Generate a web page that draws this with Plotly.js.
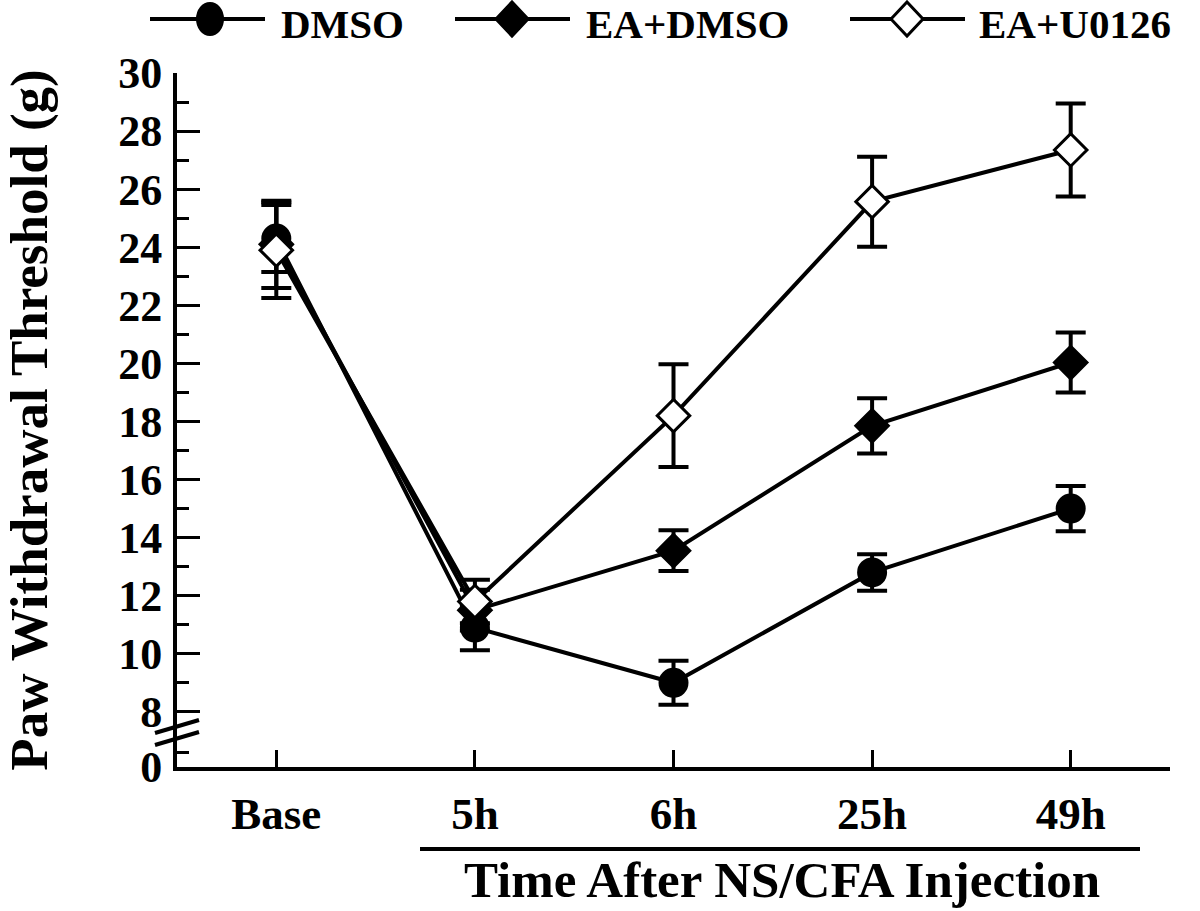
<!DOCTYPE html>
<html>
<head>
<meta charset="utf-8">
<script src="https://cdn.plot.ly/plotly-3.0.1.min.js"></script>
<style>html,body{margin:0;padding:0;background:#fff;}#chart{width:1200px;height:911px;}</style>
</head>
<body>
<div id="chart"></div>
<script>
// ---- Data ----
const categories = ['Base', '5h', '6h', '25h', '49h'];
const seriesNames = ['DMSO', 'EA+DMSO', 'EA+U0126'];
const dmso = [24.3, 10.9, 9.0, 12.8, 15.0];
const dmsoErr = [1.15, 0.78, 0.76, 0.63, 0.78];
const eaDmso = [24.1, 11.5, 13.55, 17.85, 20.03];
const eaDmsoErr = [1.5, 0.7, 0.7, 0.95, 1.03];
const eaU0126 = [23.9, 11.8, 18.2, 25.57, 27.35];
const eaU0126Err = [1.65, 0.75, 1.77, 1.55, 1.6];
const yTickVals = [6.1, 8, 10, 12, 14, 16, 18, 20, 22, 24, 26, 28, 30];
const yTickText = ['0', '8', '10', '12', '14', '16', '18', '20', '22', '24', '26', '28', '30'];
const yMinorVals = [6.6, 9, 11, 13, 15, 17, 19, 21, 23, 25, 27, 29];

// ---- Layout geometry (pixels) ----
const W = 1200, H = 911;
const L = 177, R = 1170, T = 73, B = 767;
const FONT = 'Liberation Serif, Times New Roman, serif';
const px = x => (x - L) / (R - L);
const py = y => (B - y) / (B - T);

function trace(name, y, err, symbol, fill) {
  return {
    type: 'scatter', mode: 'lines+markers', name: name,
    x: categories, y: y,
    line: {color: '#000', width: 4},
    marker: {symbol: symbol, size: symbol.startsWith('circle') ? 27 : 25, color: fill,
             line: {color: '#000', width: 3}},
    error_y: {type: 'data', array: err, visible: true, color: '#000', thickness: 4, width: 15},
    showlegend: false, cliponaxis: false
  };
}

const data = [
  trace(seriesNames[0], dmso, dmsoErr, 'circle', '#000'),
  trace(seriesNames[1], eaDmso, eaDmsoErr, 'diamond', '#000'),
  trace(seriesNames[2], eaU0126, eaU0126Err, 'diamond', '#fff')
];

// ---- Manual legend (decoration) ----
const shapes = [];
const annotations = [];
const legendItems = [
  {x1: 150, x2: 265, xm: 210, text: seriesNames[0], tx: 280, sym: 'circle', fill: '#000'},
  {x1: 455, x2: 570, xm: 512, text: seriesNames[1], tx: 585, sym: 'diamond', fill: '#000'},
  {x1: 850, x2: 965, xm: 907, text: seriesNames[2], tx: 978, sym: 'diamond', fill: '#fff'}
];
const ly = 19;
legendItems.forEach(it => {
  shapes.push({type: 'line', xref: 'paper', yref: 'paper', x0: px(it.x1), x1: px(it.x2), y0: py(ly), y1: py(ly),
               line: {color: '#000', width: 4}});
  if (it.sym === 'circle') {
    shapes.push({type: 'circle', xref: 'paper', yref: 'paper', x0: px(it.xm - 13), x1: px(it.xm + 13),
                 y0: py(ly + 16), y1: py(ly - 16), fillcolor: it.fill, line: {color: '#000', width: 2}});
  } else {
    const hw = 16, hh = 17;
    const p = `M ${px(it.xm - hw)} ${py(ly)} L ${px(it.xm)} ${py(ly - hh)} L ${px(it.xm + hw)} ${py(ly)} L ${px(it.xm)} ${py(ly + hh)} Z`;
    shapes.push({type: 'path', xref: 'paper', yref: 'paper', path: p, fillcolor: it.fill, line: {color: '#000', width: 3}});
  }
  annotations.push({xref: 'paper', yref: 'paper', x: px(it.tx), y: py(24), xanchor: 'left', yanchor: 'middle',
                    text: it.text, showarrow: false, borderpad: 0,
                    font: {family: FONT, size: 41, color: '#000', weight: 'bold'}});
});

// axis break marks
shapes.push({type: 'line', xref: 'paper', yref: 'paper', x0: px(155), x1: px(199), y0: py(733), y1: py(720), line: {color: '#000', width: 4}});
shapes.push({type: 'line', xref: 'paper', yref: 'paper', x0: px(155), x1: px(199), y0: py(745), y1: py(732), line: {color: '#000', width: 4}});
// underline for the time-after-injection group
shapes.push({type: 'line', xref: 'paper', yref: 'paper', x0: px(420), x1: px(1140), y0: py(849), y1: py(849), line: {color: '#000', width: 4}});

annotations.push({xref: 'paper', yref: 'paper', x: px(782), y: py(880), xanchor: 'center', yanchor: 'middle',
                  text: 'Time After NS/CFA Injection', showarrow: false, borderpad: 0,
                  font: {family: FONT, size: 51, color: '#000', weight: 'bold'}});

const layout = {
  width: W, height: H,
  margin: {l: L, r: W - R, t: T, b: H - B, pad: 0},
  paper_bgcolor: '#fff', plot_bgcolor: '#fff',
  showlegend: false,
  font: {family: FONT, color: '#000'},
  xaxis: {
    type: 'category', range: [-0.5, 4.5], showgrid: false, zeroline: false,
    showline: true, linecolor: '#000', linewidth: 4,
    ticks: 'inside', ticklen: 17, tickwidth: 3, tickcolor: '#000',
    tickfont: {family: FONT, size: 45, color: '#000', weight: 'bold'},
    ticklabelstandoff: 4
  },
  yaxis: {
    range: [6.1, 30], showgrid: false, zeroline: false,
    showline: true, linecolor: '#000', linewidth: 4,
    tickmode: 'array', tickvals: yTickVals, ticktext: yTickText,
    ticks: 'inside', ticklen: 23, tickwidth: 3, tickcolor: '#000',
    minor: {tickmode: 'array', tickvals: yMinorVals, ticks: 'inside', ticklen: 12, tickwidth: 3, tickcolor: '#000', showgrid: false},
    tickfont: {family: FONT, size: 44, color: '#000', weight: 'bold'},
    ticklabelstandoff: 2,
    title: {text: 'Paw Withdrawal Threshold (g)', standoff: 58,
            font: {family: FONT, size: 53, color: '#000', weight: 'bold'}}
  },
  shapes: shapes,
  annotations: annotations
};

Plotly.newPlot('chart', data, layout, {displayModeBar: false, staticPlot: true});
</script>
</body>
</html>
